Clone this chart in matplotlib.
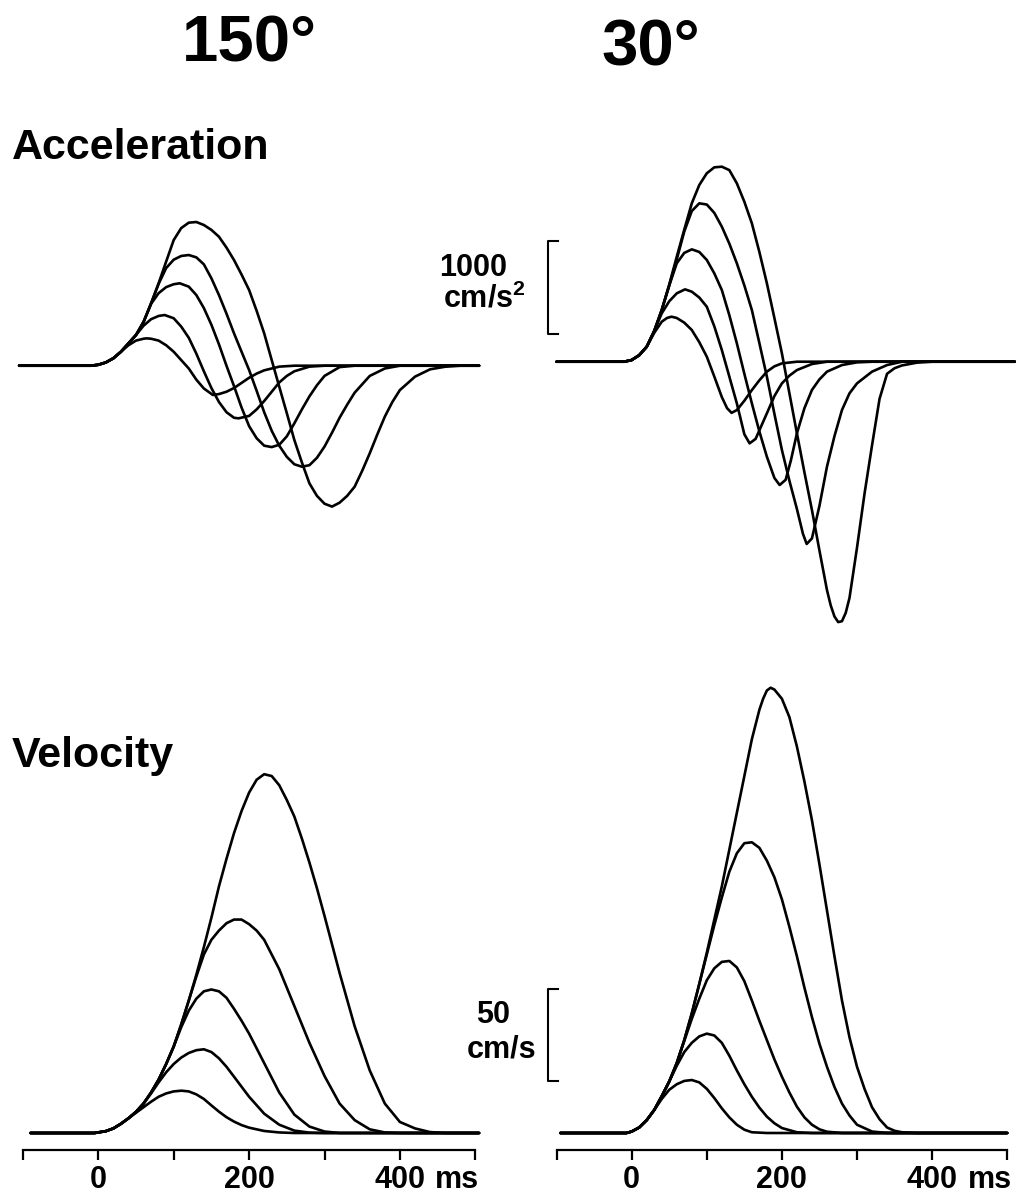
import matplotlib.pyplot as plt

plt.rcParams['font.family'] = ['Liberation Sans', 'DejaVu Sans']
plt.rcParams['font.weight'] = 'bold'
plt.rcParams['mathtext.fontset'] = 'custom'
plt.rcParams['mathtext.rm'] = 'Liberation Sans:bold'
plt.rcParams['mathtext.bf'] = 'Liberation Sans:bold'

# ---- values (time in ms) ----
# acceleration, 150 deg (cm/s^2)
acc150_t = [
    [-105, -10, 0, 10, 20, 30, 40, 50, 60, 70, 80, 90, 100, 110, 120, 130, 140, 150, 160, 170,
     180, 190, 200, 210, 220, 230, 240, 250, 260, 270, 280, 290, 300, 310, 320, 330, 340, 350, 360, 370,
     380, 390, 400, 420, 440, 460, 480, 505],
    [-105, -10, 0, 10, 20, 30, 40, 50, 60, 70, 80, 90, 100, 110, 120, 130, 140, 150, 160, 170,
     180, 190, 200, 210, 220, 230, 240, 250, 260, 270, 280, 290, 300, 310, 320, 330, 340, 360, 380, 400, 505],
    [-105, -10, 0, 10, 20, 30, 40, 50, 60, 70, 80, 90, 100, 108, 120, 130, 140, 150, 160, 170,
     180, 190, 200, 210, 220, 230, 240, 250, 260, 270, 280, 290, 300, 320, 340, 505],
    [-105, -10, 0, 10, 20, 30, 40, 50, 60, 70, 80, 88, 100, 110, 120, 130, 140, 150, 160, 170,
     180, 186, 200, 210, 220, 230, 240, 250, 260, 280, 300, 505],
    [-105, -10, 0, 10, 20, 30, 40, 50, 60, 64, 70, 80, 90, 100, 110, 120, 130, 140, 152, 160,
     170, 180, 190, 200, 210, 220, 240, 260, 505],
]
acc150_a = [
    [0, 0, 10, 35, 80, 150, 240, 330, 470, 670, 886, 1120, 1351, 1480, 1538, 1545, 1513, 1460, 1387, 1270,
     1136, 980, 814, 590, 348, 60, -226, -510, -799, -1040, -1265, -1400, -1484, -1515, -1473, -1400, -1301, -1130,
     -942, -740, -548, -390, -262, -118, -39, -11, 0, 0],
    [0, 0, 10, 35, 80, 150, 240, 330, 470, 670, 880, 1050, 1140, 1180, 1190, 1165, 1090, 940, 760, 560,
     348, 150, -46, -270, -500, -700, -860, -980, -1060, -1086, -1070, -990, -870, -720, -560, -420, -290,
     -110, -30, 0, 0],
    [0, 0, 10, 35, 80, 150, 240, 330, 470, 665, 780, 845, 876, 886, 850, 760, 620, 440, 230, 0,
     -220, -450, -650, -780, -860, -875, -850, -760, -620, -470, -330, -210, -110, -15, 0, 0],
    [0, 0, 10, 35, 80, 150, 240, 330, 430, 500, 535, 545, 510, 420, 300, 130, -60, -240, -390, -500,
     -560, -566, -540, -470, -380, -280, -180, -110, -60, -10, 0, 0],
    [0, 0, 10, 35, 80, 150, 220, 270, 290, 294, 290, 270, 220, 150, 60, -30, -150, -245, -315, -305,
     -280, -240, -185, -130, -85, -50, -10, 0, 0],
]

# acceleration, 30 deg (cm/s^2)
acc30_t = [
    [-100, -10, 0, 10, 20, 30, 40, 50, 60, 70, 80, 90, 100, 110, 120, 130, 140, 150, 160, 170,
     180, 190, 200, 210, 220, 230, 240, 250, 260, 265, 270, 275, 280, 285, 290, 300, 310, 320, 330, 340,
     350, 360, 380, 400, 510],
    [-100, -10, 0, 10, 20, 30, 40, 50, 60, 70, 80, 90, 100, 110, 120, 130, 140, 150, 160, 170,
     180, 190, 200, 210, 220, 228, 233, 240, 250, 260, 270, 280, 290, 300, 320, 340, 360, 510],
    [-100, -10, 0, 10, 20, 30, 40, 50, 60, 70, 80, 90, 100, 110, 120, 130, 140, 150, 160, 170,
     180, 190, 197, 205, 212, 220, 230, 240, 250, 260, 280, 300, 320, 510],
    [-100, -10, 0, 10, 20, 30, 40, 50, 60, 71, 80, 90, 100, 110, 120, 130, 140, 150, 157, 165,
     180, 190, 200, 210, 220, 240, 260, 510],
    [-100, -10, 0, 10, 20, 30, 40, 47, 53, 60, 70, 80, 90, 100, 110, 120, 127, 133, 140, 150,
     160, 170, 180, 190, 200, 220, 510],
]
acc30_a = [
    [0, 0, 18, 70, 161, 330, 556, 830, 1129, 1420, 1703, 1900, 2026, 2090, 2097, 2060, 1918, 1720, 1488, 1180,
     843, 470, 90, -340, -770, -1190, -1595, -2030, -2455, -2620, -2740, -2800, -2790, -2700, -2540, -2000,
     -1420, -900, -400, -130, -70, -40, -10, 0, 0],
    [0, 0, 18, 70, 161, 330, 556, 820, 1100, 1400, 1620, 1703, 1690, 1600, 1452, 1270, 1058, 820, 556, 200,
     -161, -560, -949, -1280, -1584, -1850, -1960, -1900, -1550, -1129, -800, -519, -340, -233, -107, -36, 0, 0],
    [0, 0, 18, 70, 161, 330, 556, 820, 1058, 1170, 1208, 1180, 1094, 950, 771, 500, 198, -130, -448, -750,
     -1022, -1250, -1326, -1270, -1060, -770, -500, -304, -190, -107, -36, -7, 0, 0],
    [0, 0, 18, 70, 161, 330, 520, 650, 735, 778, 753, 690, 591, 380, 126, -160, -448, -780, -878, -830,
     -555, -370, -233, -150, -90, -25, 0, 0],
    [0, 0, 18, 70, 161, 310, 430, 470, 484, 470, 420, 341, 210, 54, -160, -380, -500, -550, -520, -420,
     -305, -200, -107, -50, -18, 0, 0],
]

# velocity, 150 deg (cm/s)
vel150_t = [
    [-90, -5, 10, 20, 30, 40, 50, 60, 70, 80, 90, 100, 110, 120, 130, 140, 150, 160, 170, 180,
     190, 200, 210, 220, 230, 240, 250, 260, 270, 280, 290, 300, 320, 340, 360, 380, 400, 420, 440, 460, 505],
    [-90, -5, 10, 20, 30, 40, 50, 60, 70, 80, 90, 100, 110, 120, 130, 140, 150, 160, 170, 180,
     190, 200, 210, 220, 240, 260, 280, 300, 320, 340, 360, 380, 400, 505],
    [-90, -5, 10, 20, 30, 40, 50, 60, 70, 80, 90, 100, 110, 120, 130, 140, 150, 160, 170, 180,
     190, 200, 220, 240, 260, 280, 300, 320, 505],
    [-90, -5, 10, 20, 30, 40, 50, 60, 70, 80, 90, 100, 110, 120, 130, 140, 150, 160, 170, 180,
     200, 220, 240, 260, 280, 300, 505],
    [-90, -5, 10, 20, 30, 40, 50, 60, 70, 80, 90, 100, 110, 120, 130, 140, 150, 160, 170, 180,
     190, 200, 220, 240, 260, 505],
]
vel150_v = [
    [0, 0, 1, 2.5, 5, 8, 11.5, 16, 22, 29, 37.5, 47, 59, 72, 86, 101, 117, 134, 149, 163,
     175, 185, 192, 195, 194, 189, 181, 172, 160, 147, 133, 118, 87, 58, 34, 16, 6, 2.5, 0.5, 0, 0],
    [0, 0, 1, 2.5, 5, 8, 11.5, 16, 22, 29, 37.5, 47, 59, 72, 85, 97, 105, 110, 114, 116,
     116, 113.5, 110, 105, 89, 69, 49, 31, 16, 7, 2, 0.3, 0, 0],
    [0, 0, 1, 2.5, 5, 8, 11.5, 16, 22, 29, 37.5, 47, 57.5, 66.5, 73, 77, 78, 77, 73.5, 67.5,
     61, 54, 38, 22, 10, 3.5, 0.8, 0, 0],
    [0, 0, 1, 2.5, 5, 8, 11.5, 16, 21.5, 27.5, 33, 37.5, 41, 43.5, 45, 45.5, 44, 40.6, 36, 30.6,
     19.7, 10.5, 4.5, 1.3, 0.2, 0, 0],
    [0, 0, 1, 2.5, 5, 8, 11, 14, 17, 19.7, 21.5, 22.6, 23, 22.6, 21, 18.5, 15, 11.6, 8.6, 6.2,
     4.3, 2.9, 1.1, 0.3, 0, 0],
]

# velocity, 30 deg (cm/s)
vel30_t = [
    [-95, -7, 0, 10, 20, 30, 40, 50, 60, 70, 80, 90, 100, 110, 120, 130, 140, 150, 160, 170,
     175, 180, 185, 190, 200, 210, 220, 230, 240, 250, 260, 270, 280, 290, 300, 310, 320, 330, 340, 350,
     360, 380, 500],
    [-95, -7, 0, 10, 20, 30, 40, 50, 60, 70, 80, 90, 100, 110, 120, 130, 140, 150, 160, 170,
     180, 190, 200, 210, 220, 230, 240, 250, 260, 270, 280, 290, 300, 320, 340, 500],
    [-95, -7, 0, 10, 20, 30, 40, 50, 60, 70, 80, 90, 100, 110, 120, 130, 140, 150, 160, 170,
     180, 190, 200, 210, 220, 230, 240, 250, 260, 280, 500],
    [-95, -7, 0, 10, 20, 30, 40, 50, 60, 70, 80, 90, 100, 110, 120, 130, 140, 150, 160, 170,
     180, 190, 200, 220, 240, 500],
    [-95, -7, 0, 10, 20, 30, 40, 50, 60, 70, 80, 90, 100, 110, 120, 130, 140, 150, 160, 180, 500],
]
vel30_v = [
    [0, 0, 0.8, 3, 7, 12.5, 20, 28, 38, 50.5, 65, 81, 98, 116, 134, 154, 174, 194, 214, 230,
     236, 240.5, 242, 241, 236, 226, 210, 191, 170, 146, 121, 96, 72, 52, 36, 24, 14, 7.5, 3, 1.2,
     0.4, 0, 0],
    [0, 0, 0.8, 3, 7, 12.5, 20, 28, 38, 50.5, 65, 81, 97, 113, 128, 142, 152, 157.5, 158, 155,
     148, 139, 127, 112, 96, 79, 63, 48.5, 36, 25, 16, 9.5, 4.5, 0.8, 0, 0],
    [0, 0, 0.8, 3, 7, 12.5, 20, 28, 38, 50, 62, 73, 83, 89.5, 93, 93.5, 90, 82.5, 72, 61,
     50.5, 40, 30.6, 22, 14.3, 8.5, 4.5, 2, 0.7, 0, 0],
    [0, 0, 0.8, 3, 7, 12.5, 20, 28, 36.5, 44, 49, 52.5, 54, 53, 49, 42, 34, 26.5, 19.7, 13.8,
     8.9, 5.3, 2.7, 0.4, 0, 0],
    [0, 0, 0.8, 3, 7, 12.5, 18.5, 23.5, 26.5, 28.3, 28.8, 27.5, 24, 19, 13.4, 8.5, 4.5, 1.8, 0.4, 0, 0],
]

time_ticks = [-100, 0, 100, 200, 300, 400, 500]
time_labels = ['', '0', '', '200', '', '400', '']

# ---- layout (pixels of the 1029 x 1193 picture) ----
W, H = 1029, 1193
fig = plt.figure(figsize=(W / 100, H / 100), dpi=100)


def panel(x0, x1, y0, y1, t_zero, px_ms, base, px_unit):
    ax = fig.add_axes([x0 / W, 1 - y1 / H, (x1 - x0) / W, (y1 - y0) / H])
    ax.set_xlim((x0 - t_zero) / px_ms, (x1 - t_zero) / px_ms)
    ax.set_ylim((base - y1) / px_unit, (base - y0) / px_unit)
    for s in ax.spines.values():
        s.set_visible(False)
    ax.set_xticks([])
    ax.set_yticks([])
    ax.patch.set_alpha(0)
    return ax


def time_axis(ax):
    ax.spines['bottom'].set_visible(True)
    ax.spines['bottom'].set_linewidth(1.6)
    ax.spines['bottom'].set_bounds(-100, 500)
    ax.set_xticks(time_ticks)
    ax.set_xticklabels(time_labels)
    ax.tick_params(axis='x', direction='out', length=7, width=1.6, pad=4, labelsize=22)
    ax.annotate('ms', xy=(447, 0), xycoords=('data', 'axes fraction'),
                xytext=(0, -11), textcoords='offset points',
                ha='left', va='top', fontsize=22, fontweight='bold')


ax_a150 = panel(15, 500, 180, 530, 98.3, 0.754, 365.7, 0.093)
ax_a30 = panel(530, 1025, 140, 645, 631.7, 0.751, 361.7, 0.093)
ax_v150 = panel(15, 500, 730, 1150, 98.3, 0.754, 1133, 1.84)
ax_v30 = panel(530, 1025, 660, 1150, 631.7, 0.751, 1133, 1.84)

for ax, ts, ys in [(ax_a150, acc150_t, acc150_a), (ax_a30, acc30_t, acc30_a),
                   (ax_v150, vel150_t, vel150_v), (ax_v30, vel30_t, vel30_v)]:
    for t, y in zip(ts, ys):
        ax.plot(t, y, color='black', lw=1.9, solid_joinstyle='round', solid_capstyle='round')

time_axis(ax_v150)
time_axis(ax_v30)

# scale bars
ax_a30.plot([-98, -111, -111, -98], [300, 300, 1300, 1300], color='black', lw=1.5, clip_on=False)
ax_v30.plot([-98, -111, -111, -98], [28, 28, 78, 78], color='black', lw=1.5, clip_on=False)


def ftext(x, y, s, size, ha='left'):
    fig.text(x / W, 1 - y / H, s, ha=ha, va='baseline', fontsize=size, fontweight='bold')


ftext(249, 62, '150°', 47, ha='center')
ftext(651, 66, '30°', 47, ha='center')
ftext(12, 159, 'Acceleration', 31)
ftext(12, 767, 'Velocity', 31)
ftext(473, 276, '1000', 22, ha='center')
ftext(484, 308, r'cm/s$^{\mathbf{2}}$', 22, ha='center')
ftext(493, 1023, '50', 22, ha='center')
ftext(502, 1058, 'cm/s', 22, ha='center')

fig.savefig('out.png', dpi=100)
